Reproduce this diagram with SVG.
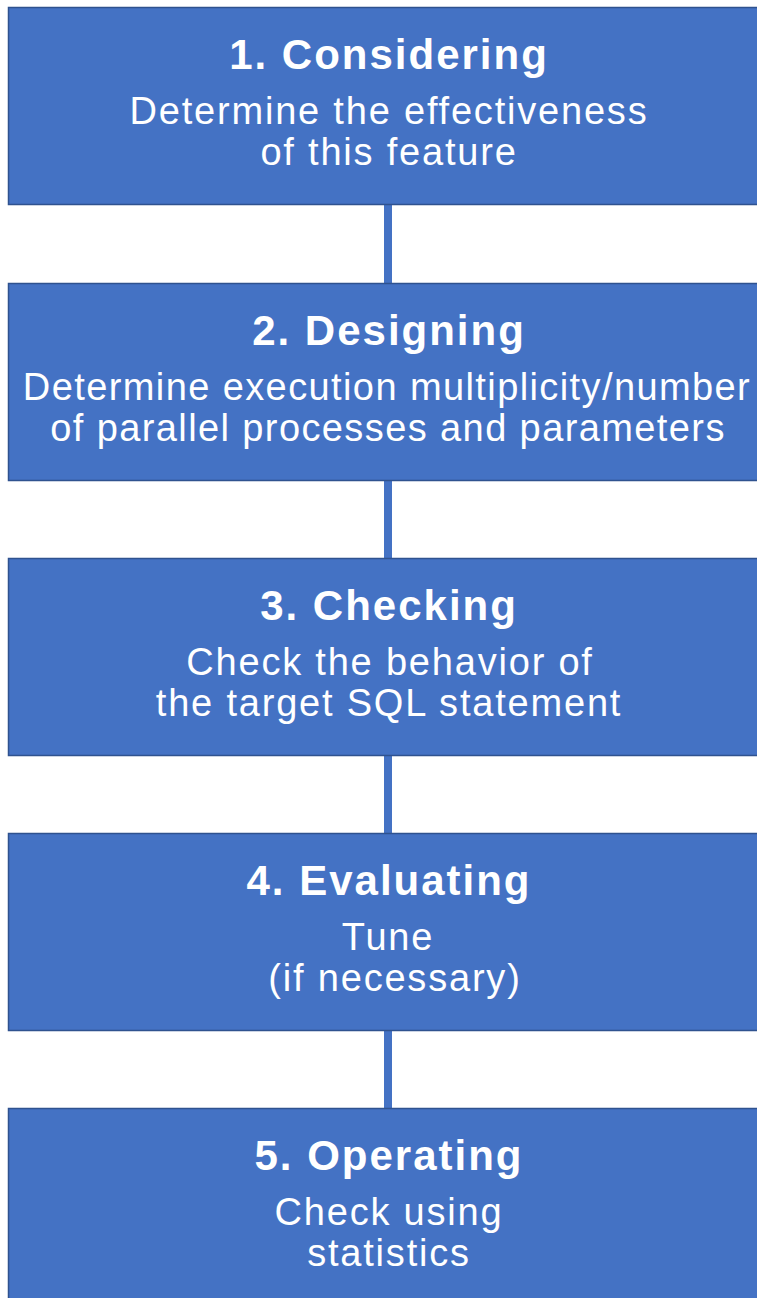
<svg xmlns="http://www.w3.org/2000/svg" width="757" height="1298" viewBox="0 0 757 1298">
<style>
.box{fill:#4472C4;stroke:#2F528F;stroke-width:1.5}
.conn{fill:#4472C4}
.t{font-family:"Liberation Sans",Arial,sans-serif;font-weight:bold;font-size:42px;fill:#fff;text-anchor:middle;letter-spacing:2px}
.b{font-family:"Liberation Sans",Arial,sans-serif;font-size:38px;fill:#fff;text-anchor:middle;letter-spacing:1.8px}
.n{letter-spacing:1.4px}
</style>
<rect width="757" height="1298" fill="#fff"/>
<g id="connectors">
<rect class="conn" x="384" y="205" width="8" height="78"/>
<rect class="conn" x="384" y="481" width="8" height="77"/>
<rect class="conn" x="384" y="756" width="8" height="77"/>
<rect class="conn" x="384" y="1031" width="8" height="77"/>
</g>
<g id="n1">
<rect class="box" x="8.5" y="7.5" width="760" height="197"/>
<text class="t" x="389" y="69">1. Considering</text>
<text class="b" x="389" y="124">Determine the effectiveness</text>
<text class="b" x="389" y="165">of this feature</text>
</g>
<g id="n2">
<rect class="box" x="8.5" y="283.5" width="760" height="197"/>
<text class="t" x="389" y="345">2. Designing</text>
<text class="b n" x="387" y="400">Determine execution multiplicity/number</text>
<text class="b n" x="388" y="441">of parallel processes and parameters</text>
</g>
<g id="n3">
<rect class="box" x="8.5" y="558.5" width="760" height="197"/>
<text class="t" x="389" y="620">3. Checking</text>
<text class="b" x="390" y="675">Check the behavior of</text>
<text class="b" x="389" y="716">the target SQL statement</text>
</g>
<g id="n4">
<rect class="box" x="8.5" y="833.5" width="760" height="197"/>
<text class="t" x="389" y="895">4. Evaluating</text>
<text class="b" x="388" y="950">Tune</text>
<text class="b" x="395" y="991">(if necessary)</text>
</g>
<g id="n5">
<rect class="box" x="8.5" y="1108.5" width="760" height="200"/>
<text class="t" x="389" y="1170">5. Operating</text>
<text class="b" x="389" y="1225">Check using</text>
<text class="b" x="389" y="1266">statistics</text>
</g>
</svg>
